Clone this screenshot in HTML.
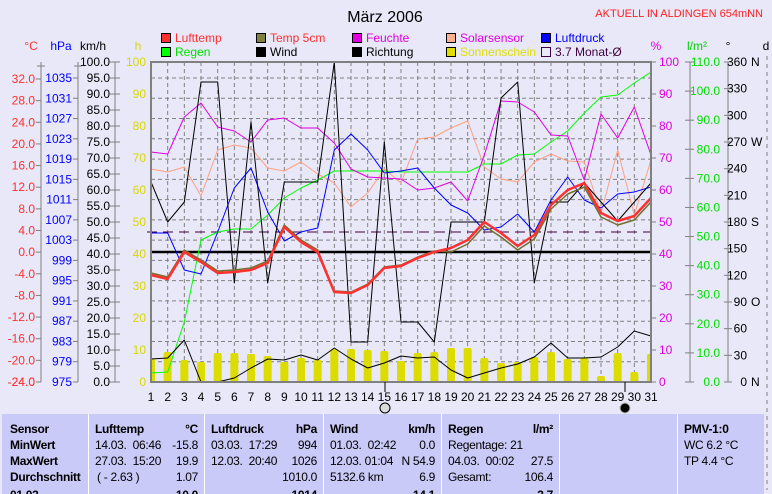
<!DOCTYPE html>
<html><head><meta charset="utf-8"><style>
body{margin:0;background:#e8e8f8;width:772px;height:490px;overflow:hidden;font-family:"Liberation Sans",sans-serif}
svg{position:absolute;left:0;top:0}
text{font-family:"Liberation Sans",sans-serif;font-size:12px}
.tb{position:absolute;top:414px;height:80px;background:#cacaf8;border-left:1px solid #fff;font-size:12px;letter-spacing:-0.3px;color:#000;box-sizing:border-box;overflow:hidden}
.tb div{position:absolute;white-space:nowrap}
.b{font-weight:bold}
</style></head><body>
<svg id="s" width="772" height="490" xmlns="http://www.w3.org/2000/svg"></svg>
<div class="tb" style="left:2px;width:87px;border-left:none">
<div class="b" style="left:8px;top:8px">Sensor</div><div class="b" style="left:8px;top:24px">MinWert</div><div class="b" style="left:8px;top:40px">MaxWert</div><div class="b" style="left:8px;top:56px">Durchschnitt</div><div class="b" style="left:8px;top:74px">01.03.</div></div>
<div class="tb" style="left:88px;width:116px">
<div class="b" style="left:6px;top:8px">Lufttemp</div><div class="b" style="right:6px;top:8px">°C</div>
<div style="left:6px;top:24px">14.03.&nbsp; 06:46</div><div style="right:6px;top:24px">-15.8</div>
<div style="left:6px;top:40px">27.03.&nbsp; 15:20</div><div style="right:6px;top:40px">19.9</div>
<div style="left:8px;top:56px">( - 2.63 )</div><div style="right:6px;top:56px">1.07</div><div class="b" style="right:6px;top:74px">10.0</div></div>
<div class="tb" style="left:204px;width:119px">
<div class="b" style="left:6px;top:8px">Luftdruck</div><div class="b" style="right:6px;top:8px">hPa</div>
<div style="left:6px;top:24px">03.03.&nbsp; 17:29</div><div style="right:6px;top:24px">994</div>
<div style="left:6px;top:40px">12.03.&nbsp; 20:40</div><div style="right:6px;top:40px">1026</div>
<div style="right:6px;top:56px">1010.0</div><div class="b" style="right:6px;top:74px">1014</div></div>
<div class="tb" style="left:323px;width:118px">
<div class="b" style="left:6px;top:8px">Wind</div><div class="b" style="right:6px;top:8px">km/h</div>
<div style="left:6px;top:24px">01.03.&nbsp; 02:42</div><div style="right:6px;top:24px">0.0</div>
<div style="left:6px;top:40px">12.03.&nbsp;01:04</div><div style="right:6px;top:40px">N 54.9</div>
<div style="left:6px;top:56px">5132.6 km</div><div style="right:6px;top:56px">6.9</div><div class="b" style="right:6px;top:74px">14.1</div></div>
<div class="tb" style="left:441px;width:118px">
<div class="b" style="left:6px;top:8px">Regen</div><div class="b" style="right:6px;top:8px">l/m²</div>
<div style="left:6px;top:24px">Regentage: 21</div>
<div style="left:6px;top:40px">04.03.&nbsp; 00:02</div><div style="right:6px;top:40px">27.5</div>
<div style="left:6px;top:56px">Gesamt:</div><div style="right:6px;top:56px">106.4</div><div class="b" style="right:6px;top:74px">3.7</div></div>
<div class="tb" style="left:559px;width:118px"></div>
<div class="tb" style="left:677px;width:87px">
<div class="b" style="left:6px;top:8px">PMV-1:0</div>
<div style="left:6px;top:24px">WC 6.2 °C</div><div style="left:6px;top:40px">TP 4.4 °C</div></div>
<script>
const s=document.getElementById('s');let h='';
const X=d=>151+(d-1)*500/30, V=v=>382-3.2*v;
const T=(x,y,t,c,a,sz)=>{h+=`<text x="${x}" y="${y}" fill="${c||'#000'}" text-anchor="${a||'start'}" ${sz?`style="font-size:${sz}px"`:''}>${t}</text>`};
const L=(x1,y1,x2,y2,c,w,da)=>{h+=`<line x1="${x1}" y1="${y1}" x2="${x2}" y2="${y2}" stroke="${c}" stroke-width="${w||1}" ${da?`stroke-dasharray="${da}"`:''}/>`};
const P=(ys,c,w)=>{h+=`<polyline fill="none" stroke="${c}" stroke-width="${w||1}" stroke-linejoin="round" points="${ys.map((y,i)=>X(i+1).toFixed(1)+','+y).join(' ')}"/>`};
T(385,22,'März 2006','#000','middle',16);
T(763,17,'AKTUELL IN ALDINGEN 654mNN','#ff2020','end',11);
const lg=[[161,'#ff3030','Lufttemp','#ff3030'],[256,'#808040','Temp 5cm','#ff3030'],[352,'#e000e0','Feuchte','#e000e0'],[446,'#ffb090','Solarsensor','#e000e0'],[541,'#0000ff','Luftdruck','#0000ff']];
const lg2=[[161,'#00ff00','Regen','#00e000'],[256,'#000','Wind','#000'],[352,'#000','Richtung','#000'],[446,'#e0e000','Sonnenschein','#e0e000'],[541,'none','3.7 Monat-Ø','#400040']];
lg.forEach(a=>{h+=`<rect x="${a[0]}.5" y="33.5" width="9" height="9" fill="${a[1]}" stroke="#000"/>`;T(a[0]+14,42,a[2],a[3])});
lg2.forEach(a=>{h+=`<rect x="${a[0]}.5" y="47.5" width="9" height="9" fill="${a[1]}" stroke="${a[1]=='none'?'#400040':'#000'}"/>`;T(a[0]+14,56,a[2],a[3])});
T(31,50,'°C','#ff3030','middle');T(61,50,'hPa','#0000ff','middle');T(93,50,'km/h','#000','middle');T(138,50,'h','#d8d800','middle');
T(656,50,'%','#e000e0','middle');T(697,50,'l/m²','#00d000','middle');T(728,50,'°','#000','middle');T(766,50,'d','#000','middle');
L(41,62,41,382,'#808080');L(78,62,78,382,'#808080');L(115,62,115,382,'#808080');
L(37,66,45,66,'#808080');L(74,66,82,66,'#808080');
for(let i=0;i<15;i++){const v=32-4*i,y=382-(v+24)*303/56;L(36,y,41,y,'#808080');T(35,y+4,v.toFixed(1),'#ff3030','end');}
T(35,386,'-24.0','#ff3030','end');L(36,382,41,382,'#808080');
for(let i=0;i<=15;i++){const v=975+4*i,y=382-i*304/15;L(73,y,78,y,'#808080');T(72,y+4,v,'#0000ff','end');}
for(let v=0;v<=100;v+=5){const y=V(v);L(110,y,120,y,'#808080');T(110,y+4,v.toFixed(1),'#000','end');}
for(let v=0;v<=100;v+=10){T(146,V(v)+4,v,'#d8d800','end');}
L(690,62,690,382,'#808080');L(728,62,728,382,'#808080');
for(let v=0;v<=100;v+=10){const y=V(v);L(651,y,656,y,'#808080');T(659,y+4,v,'#e000e0');}
for(let v=0;v<=110;v+=10){const y=382-v*320/110;L(685,y,694,y,'#808080');T(720,y+4,v.toFixed(1),'#00e000','end');}
const dl={360:'N',270:'W',180:'S',90:'O',0:'N'};
for(let v=0;v<=360;v+=30){const y=382-v*320/360;L(724,y,732,y,'#808080');T(747,y+4,v,'#000','end');if(dl[v])T(751,y+4,dl[v],'#000');}
L(767,56,767,490,'#808080',1,'4,4');
for(let d=2;d<=30;d++)L(X(d),62,X(d),382,'#808080',1,'4,3');
for(let i=1;i<=15;i++){const y=382-i*304/15;L(151,y,651,y,'#808080',1,'4,3');}
const sb=[359,352,360,362,353,353,354,356,362,358,360,349,349,350,351,361,353,352,348,348,358,363,362,357,352,359,358,376,353,372,354];
sb.forEach((y,i)=>{let x=X(i+1)-4,w=8;if(i==0){x=151;w=4}if(i==30){w=4}h+=`<rect x="${x}" y="${y}" width="${w}" height="${382-y}" rx="2" fill="#dcdc00"/>`;});
L(147,232,651,232,'#400040',1,'10,6');L(151,252,651,252,'#000',2.5);
P([373,372,322,240,232,229,229,215,198,188,180,171,171,171,171,172,172,172,172,172,164,164,155,154,142,131,113,97,95,83,72],'#00ff00');
P([169,172,167,196,150,145,148,168,171,162,174,183,207,193,169,183,139,137,128,121,167,179,182,162,154,161,162,213,150,215,160],'#ffa080');
P([152,154,117,103,127,131,142,120,118,128,128,143,169,177,178,179,190,188,182,201,155,101,102,112,135,136,180,114,138,107,155],'#e000e0');
P([233,233,270,274,232,188,168,212,241,232,228,150,134,150,173,171,168,188,205,213,230,227,214,232,200,177,200,208,194,192,187],'#0000ff');
P([182,222,202,82,82,283,122,283,182,182,182,62,342,342,142,322,322,342,222,222,222,98,82,283,202,202,183,202,221,202,183],'#000');
P([359,358,340,382,382,378,368,359,360,355,360,348,359,368,363,356,358,357,370,378,373,368,364,357,343,358,358,357,347,331,336],'#000');
const tr=[275,279,252,262,273,272,270,263,227,242,252,292,293,285,268,266,258,252,248,240,222,233,246,235,205,190,183,213,221,216,198];
P(tr.map((y,i)=>y+(i>17?4:(i>10?-1:-2))),'#707030',1.5);
P(tr,'#ff3030',2.5);
h+=`<rect x="151" y="62" width="500" height="320" fill="none" stroke="#808080" stroke-width="2"/>`;
for(let d=1;d<=31;d++)T(X(d),401,d,'#000','middle');
L(385,382,385,392,'#000');L(625,382,625,392,'#000');
h+=`<circle cx="385" cy="408" r="5" fill="#ddd" stroke="#000"/><circle cx="625" cy="408" r="5" fill="#000" stroke="#bbb"/>`;
s.innerHTML=h;
</script>
</body></html>
